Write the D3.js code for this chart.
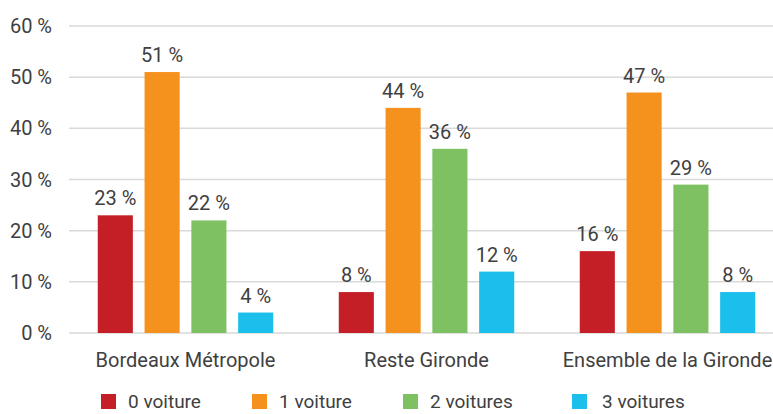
<!DOCTYPE html>
<html>
<head>
<meta charset="utf-8">
<script src="https://cdn.jsdelivr.net/npm/d3@7"></script>
<style>
  body { margin: 0; background: #fff; }
  svg { display: block; font-family: Roboto, "Noto Sans", sans-serif; }
</style>
</head>
<body>
<svg id="chart" width="773" height="414"></svg>
<script>
const categories = ["Bordeaux Métropole", "Reste Gironde", "Ensemble de la Gironde"];
const seriesNames = ["0 voiture", "1 voiture", "2 voitures", "3 voitures"];
const seriesColors = ["#c41f27", "#f5921e", "#7dc163", "#1abfeb"];
const zeroCar = [23, 8, 16];
const oneCar = [51, 44, 47];
const twoCars = [22, 36, 29];
const threeCars = [4, 12, 8];
const yTicks = [0, 10, 20, 30, 40, 50, 60];

const seriesValues = [zeroCar, oneCar, twoCars, threeCars];

const svg = d3.select("#chart");
const textColor = "#404040";
const fontSize = "20px";

const y = d3.scaleLinear().domain([0, 60]).range([333, 26]);
const x0 = d3.scaleBand().domain(categories).range([65, 788]);
const x1 = d3
  .scaleBand()
  .domain(seriesNames)
  .range([0, x0.bandwidth()])
  .paddingInner(0.25)
  .paddingOuter(0.7);

// gridlines
svg
  .append("g")
  .selectAll("line")
  .data(yTicks)
  .join("line")
  .attr("x1", 69)
  .attr("x2", 773)
  .attr("y1", (d) => y(d))
  .attr("y2", (d) => y(d))
  .attr("stroke", "#d9d9d9")
  .attr("stroke-width", 1.5);

// y axis labels
svg
  .append("g")
  .selectAll("text")
  .data(yTicks)
  .join("text")
  .attr("x", 52)
  .attr("y", (d) => y(d) + 7)
  .attr("text-anchor", "end")
  .attr("fill", textColor)
  .style("font-size", fontSize)
  .text((d) => `${d} %`);

// bars
const groups = svg
  .append("g")
  .selectAll("g")
  .data(categories)
  .join("g")
  .attr("transform", (d) => `translate(${x0(d)},0)`);

const cells = groups
  .selectAll("g")
  .data((cat, ci) => seriesNames.map((s, si) => ({ series: s, value: seriesValues[si][ci], color: seriesColors[si] })))
  .join("g");

cells
  .append("rect")
  .attr("x", (d) => x1(d.series))
  .attr("width", x1.bandwidth())
  .attr("y", (d) => y(d.value))
  .attr("height", (d) => y(0) - y(d.value))
  .attr("fill", (d) => d.color);

cells
  .append("text")
  .attr("x", (d) => x1(d.series) + x1.bandwidth() / 2)
  .attr("y", (d) => y(d.value) - 10)
  .attr("text-anchor", "middle")
  .attr("fill", textColor)
  .style("font-size", fontSize)
  .text((d) => `${d.value} %`);

// category labels
svg
  .append("g")
  .selectAll("text")
  .data(categories)
  .join("text")
  .attr("x", (d) => x0(d) + x0.bandwidth() / 2)
  .attr("y", 367)
  .attr("text-anchor", "middle")
  .attr("fill", textColor)
  .style("font-size", fontSize)
  .text((d) => d);

// legend (kept a little above the bottom edge so the text is not clipped)
const legendX = [101, 252, 403, 572];
const legend = svg
  .append("g")
  .selectAll("g")
  .data(seriesNames)
  .join("g")
  .attr("transform", (d, i) => `translate(${legendX[i]},394)`);

legend
  .append("rect")
  .attr("width", 15)
  .attr("height", 15)
  .attr("fill", (d, i) => seriesColors[i]);

legend
  .append("text")
  .attr("x", (d, i) => (i === 3 ? 30 : 27))
  .attr("y", 14)
  .attr("fill", textColor)
  .style("font-size", "19px")
  .text((d) => d);
</script>
</body>
</html>
